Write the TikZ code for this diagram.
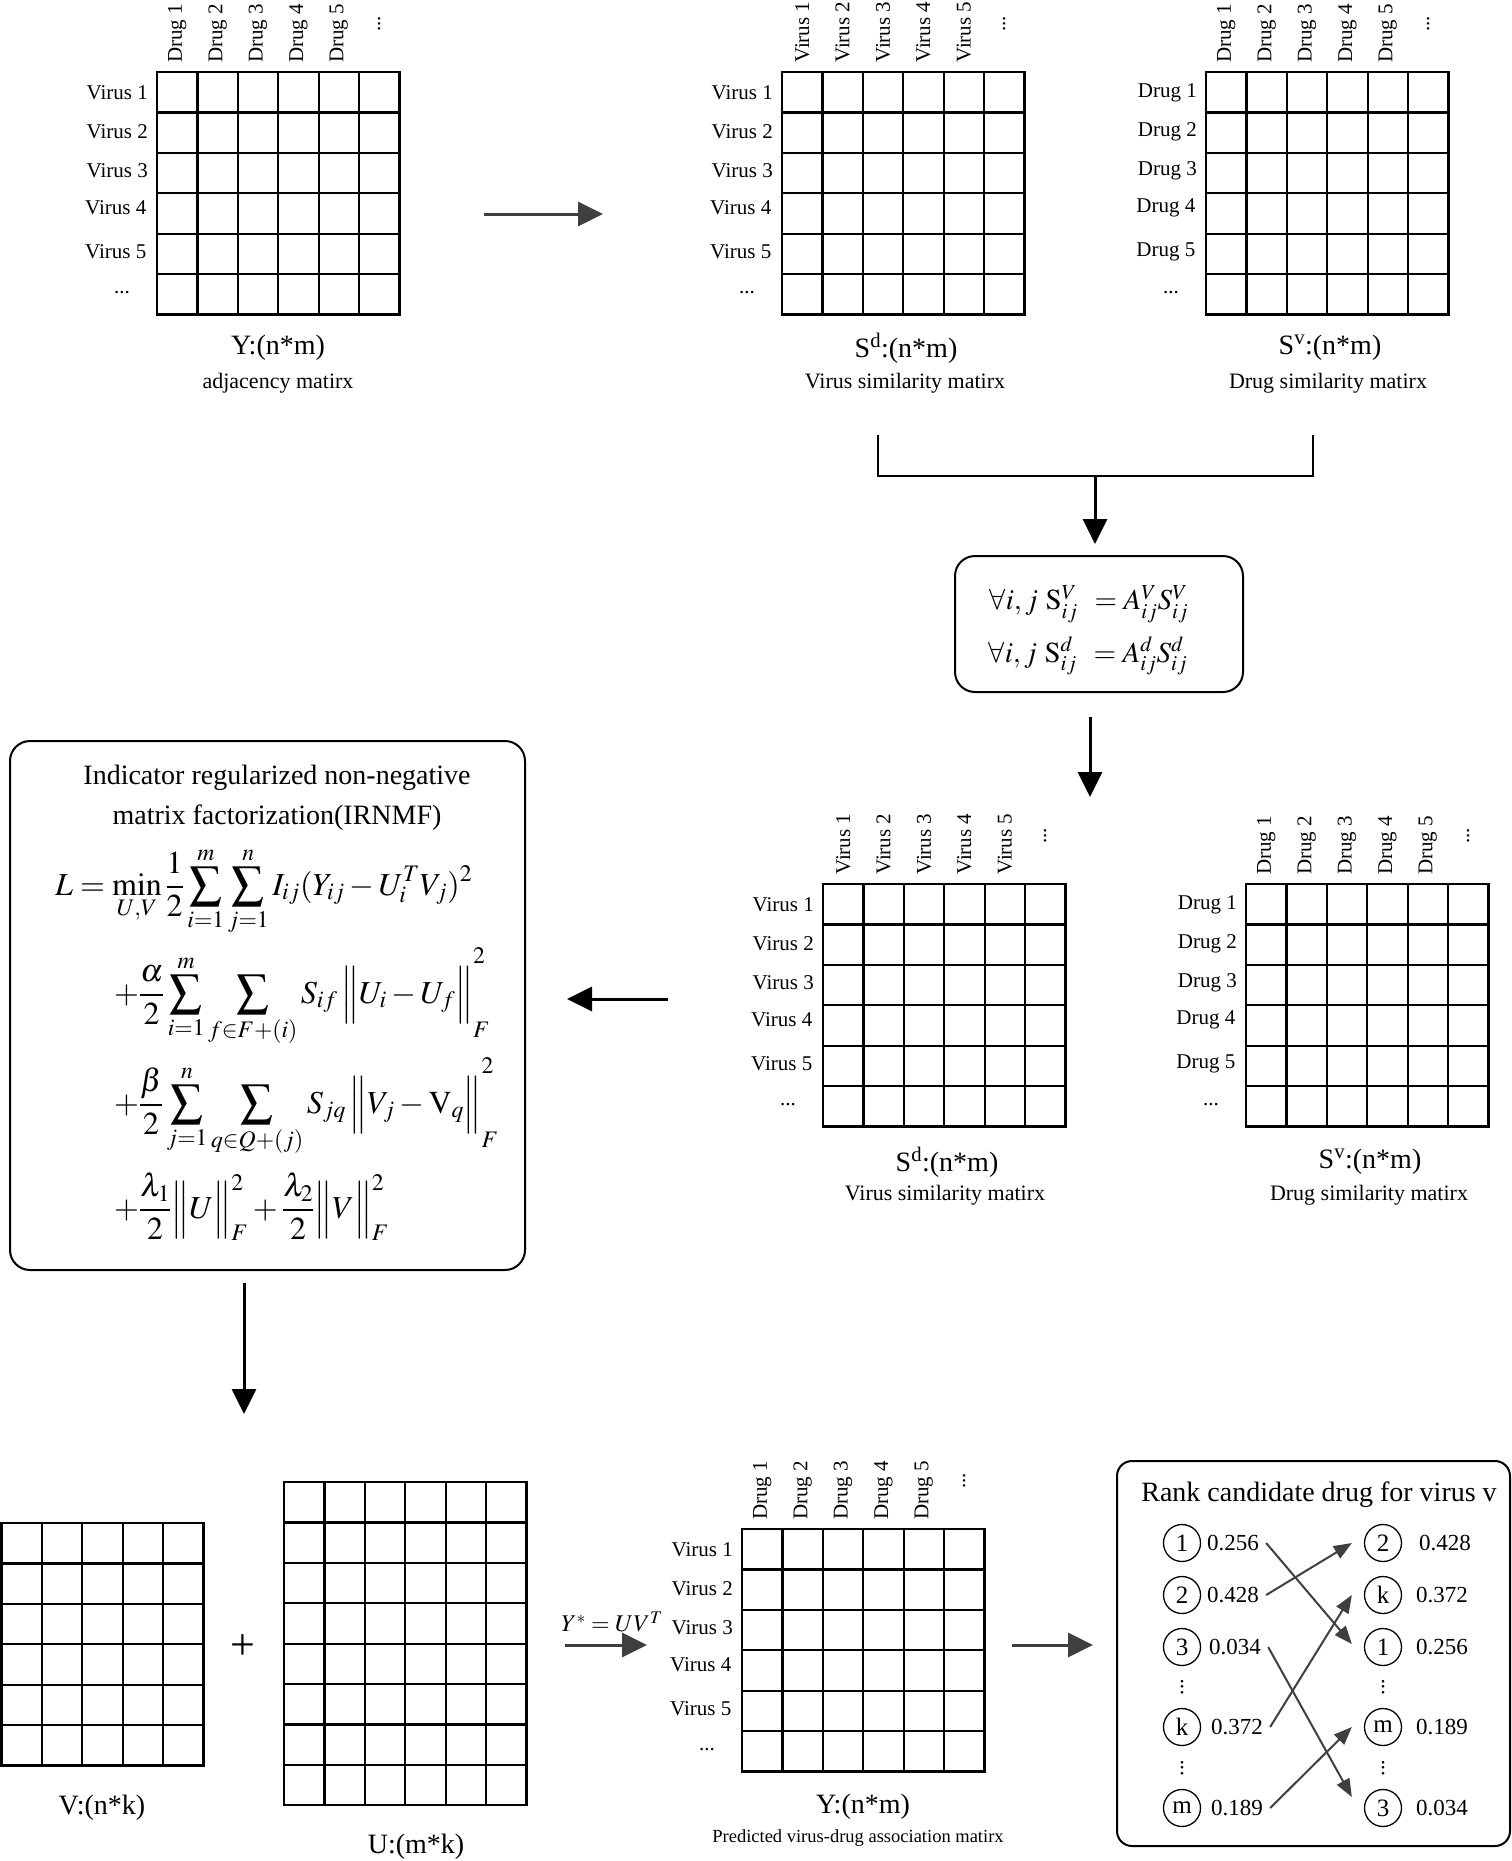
\documentclass[tikz,border=0pt]{standalone}
\usepackage{amsmath}
\usepackage{mathptmx}
\usepackage{fontspec}
\setmainfont{Liberation Serif}
\usetikzlibrary{arrows.meta}
\definecolor{dgray}{HTML}{3F3F3F}
\newcommand\cellsz{40.4}
\newcommand\mxgrid[4]{%
  \foreach \i in {0,...,#3}{\draw[gridline] ({#1+\i*\cellsz},#2) -- ({#1+\i*\cellsz},{#2+#4*\cellsz});}
  \foreach \j in {0,...,#4}{\draw[gridline] (#1,{#2+\j*\cellsz}) -- ({#1+#3*\cellsz},{#2+\j*\cellsz});}
}
\newcommand\mxlabels[5]{% x0, y0, row prefix, col prefix, name
  \foreach \k/\dy/\dx in {1/21/9,2/60/9,3/99/9,4/136/10.5,5/180/10.5}{\node[lab,anchor=east] (#5r\k) at ({#1-\dx},{#2+\dy}) {#3 \k};}
  \node[lab] (#5rd) at ({#1-35},{#2+221}) {...};
  \foreach \k in {1,...,5}{\node[lab,rotate=90,anchor=west] (#5c\k) at ({#1+(\k-0.5)*\cellsz},{#2-9}) {#4 \k};}
  \node[lab,rotate=90] (#5cd) at ({#1+5.5*\cellsz},{#2-48}) {...};
}
\newcommand\nrmsub[2]{_{\hbox{\lower13pt\hbox{$\scriptstyle #1$}}}^{\hbox{\raise12pt\hbox{$\scriptstyle #2$}}}}
\begin{document}
\begin{tikzpicture}[x=1pt,y=-1pt,
  lab/.style={font=\fontsize{21}{24}\selectfont, inner sep=0pt},
  captxt/.style={font=\fontsize{28}{32}\selectfont, inner sep=0pt},
  subtxt/.style={font=\fontsize{22}{26}\selectfont, inner sep=0pt},
  gridline/.style={line width=2.2pt, line cap=rect},
  barr/.style={line width=3pt, -{Triangle[length=25pt,width=24pt]}},
  garr/.style={barr, draw=dgray, fill=dgray},
  rarr/.style={line width=2pt, draw=dgray, -{Triangle[length=18pt,width=14pt]}},
  rbox/.style={draw, line width=2pt, rounded corners=20pt, inner sep=0pt},
  circ/.style={circle, draw, line width=1.3pt, minimum size=37pt, inner sep=0pt, font=\fontsize{25}{25}\selectfont},
  val/.style={font=\fontsize{23}{25}\selectfont, inner sep=0pt, anchor=west},
  vdot/.style={rotate=90, inner sep=0pt, font=\fontsize{22}{22}\selectfont},
  fml/.style={anchor=base west, inner sep=0pt, font=\fontsize{32}{38}\selectfont},
]
\useasboundingbox (0,0) rectangle (1512,1861);

% ---------- top row ----------
\mxgrid{157}{72}{6}{6}
\mxlabels{157}{72}{Virus}{Drug}{ma}
\node[captxt] (capA) at (278,348) {Y:(n*m)};
\node[subtxt] (subA) at (278,383) {adjacency matirx};

\mxgrid{782}{72}{6}{6}
\mxlabels{782}{72}{Virus}{Virus}{mb}
\node[captxt] (capB) at (906,348) {S\textsuperscript{d}:(n*m)};
\node[subtxt] (subB) at (905,383) {Virus similarity matirx};

\mxgrid{1206}{72}{6}{6}
\mxlabels{1206}{72}{Drug}{Drug}{mc}
\node[captxt] (capC) at (1330,348) {S\textsuperscript{v}:(n*m)};
\node[subtxt] (subC) at (1328,383) {Drug similarity matirx};

\coordinate (a1s) at (484,214);
\coordinate (a1e) at (603,214);
\draw[garr] (a1s) -- (a1e);

% bracket
\coordinate (brL) at (878,435);
\coordinate (brR) at (1313,435);
\coordinate (brM) at (1095,476);
\draw[line width=2pt] (brL) |- (brR |- brM) -- (brR);

% equation box
\node[rbox, minimum width=288pt, minimum height=136pt] (eqbox) at (1099,624) {};
\draw[barr] (brM) -- ([xshift=-4pt,yshift=11pt]eqbox.north);
\node[inner sep=0pt, font=\fontsize{29}{32}\selectfont] (eq1) at (1089,604) {$\forall i,j\ \mathrm{S}_{ij}^{V}\ \,= A_{ij}^{V}S_{ij}^{V}$};
\node[inner sep=0pt, font=\fontsize{29}{32}\selectfont] (eq2) at (1088,656) {$\forall i,j\ \mathrm{S}_{ij}^{d}\ \,= A_{ij}^{d}S_{ij}^{d}$};

\coordinate (a2s) at (1090,717);
\coordinate (a2e) at (1090,797);
\draw[barr] (a2s) -- (a2e);

% ---------- middle row ----------
\mxgrid{823}{884}{6}{6}
\mxlabels{823}{884}{Virus}{Virus}{md}
\node[captxt] (capD) at (947,1162) {S\textsuperscript{d}:(n*m)};
\node[subtxt] (subD) at (945,1195) {Virus similarity matirx};

\mxgrid{1246}{884}{6}{6}
\mxlabels{1246}{884}{Drug}{Drug}{me}
\node[captxt] (capE) at (1370,1162) {S\textsuperscript{v}:(n*m)};
\node[subtxt] (subE) at (1369,1195) {Drug similarity matirx};

% IRNMF box
\node[rbox, minimum width=515pt, minimum height=529pt] (irbox) at (267.5,1005.5) {};
\node[align=center, inner sep=0pt, font=\fontsize{28}{40}\selectfont] (irtitle) at (277,798) {Indicator regularized non-negative\\matrix factorization(IRNMF)};
\node[fml] (f1) at (55,895) {\smash{$\displaystyle L=\min_{U,V}\frac{1}{2}\sum_{i=1}^{m}\sum_{j=1}^{n}I_{ij}(Y_{ij}-U_i^TV_j)^2$}};
\node[fml] (f2) at (114,1003) {\smash{$\displaystyle +\frac{\alpha}{2}\sum_{i=1}^{m}\sum_{f\in F+(i)}S_{if}\,\Big\|U_i-U_f\Big\|\nrmsub{F}{2}$}};
\node[fml] (f3) at (114,1113) {\smash{$\displaystyle +\frac{\beta}{2}\sum_{j=1}^{n}\sum_{q\in Q+(j)}S_{jq}\,\Big\|V_j-\mathrm{V}_q\Big\|\nrmsub{F}{2}$}};
\node[fml] (f4) at (114,1218) {\smash{$\displaystyle +\frac{\lambda_1}{2}\Big\|U\Big\|_F^2+\frac{\lambda_2}{2}\Big\|V\Big\|_F^2$}};

\coordinate (a3s) at (668,999);
\coordinate (a3e) at (567,999);
\draw[barr] (a3s) -- (a3e);

\coordinate (a4s) at (244,1283);
\coordinate (a4e) at (244,1414);
\draw[barr] (a4s) -- (a4e);

% ---------- bottom row ----------
\mxgrid{1.5}{1523}{5}{6}
\node[captxt] (capV) at (102,1808) {V:(n*k)};
\node[font=\fontsize{44}{44}\selectfont, inner sep=0pt] (plus) at (243,1647) {+};
\mxgrid{284}{1482}{6}{8}
\node[captxt] (capU) at (416,1847) {U:(m*k)};

\coordinate (a5s) at (565,1645);
\coordinate (a5e) at (647,1645);
\draw[garr] (a5s) -- (a5e);
\node[inner sep=0pt, font=\fontsize{24}{26}\selectfont] (ylab) at (612,1622) {$Y^{*}=UV^{T}$};

\mxgrid{742}{1529}{6}{6}
\mxlabels{742}{1529}{Virus}{Drug}{mf}
\node[captxt] (capF) at (863,1807) {Y:(n*m)};
\node[inner sep=0pt, font=\fontsize{18.5}{21}\selectfont] (subF) at (858,1838) {Predicted virus-drug association matirx};

\coordinate (a6s) at (1012,1645);
\coordinate (a6e) at (1093,1645);
\draw[garr] (a6s) -- (a6e);

% ranking box
\node[rbox, rounded corners=15pt, minimum width=393pt, minimum height=385pt] (rkbox) at (1313.5,1653.5) {};
\node[inner sep=0pt, font=\fontsize{28}{32}\selectfont] (rktitle) at (1319,1495) {Rank candidate drug for virus v};

\node[circ] (l1) at (1182,1543) {1};
\node[circ] (l2) at (1182,1595) {2};
\node[circ] (l3) at (1182,1647) {3};
\node[circ] (lk) at (1182,1727) {k};
\node[circ] (lm) at (1182,1808) {m};
\node[vdot] (ld1) at (1182,1687) {...};
\node[vdot] (ld2) at (1182,1768) {...};
\node[val] (lv1) at (1207,1543) {0.256};
\node[val] (lv2) at (1207,1595) {0.428};
\node[val] (lv3) at (1209,1647) {0.034};
\node[val] (lvk) at (1211,1727) {0.372};
\node[val] (lvm) at (1211,1808) {0.189};

\node[circ] (r2) at (1383,1543) {2};
\node[circ] (rk) at (1383,1595) {k};
\node[circ] (r1) at (1383,1647) {1};
\node[circ] (rm) at (1383,1727) {m};
\node[circ] (r3) at (1383,1808) {3};
\node[vdot] (rd1) at (1383,1687) {...};
\node[vdot] (rd2) at (1383,1768) {...};
\node[val] (rv2) at (1419,1543) {0.428};
\node[val] (rvk) at (1416,1595) {0.372};
\node[val] (rv1) at (1416,1647) {0.256};
\node[val] (rvm) at (1416,1727) {0.189};
\node[val] (rv3) at (1416,1808) {0.034};

\draw[rarr] ([xshift=7pt]lv1.east) -- ([xshift=-12pt,yshift=3pt]r1.west);
\draw[rarr] ([xshift=7pt]lv2.east) -- ([xshift=-12pt]r2.west);
\draw[rarr] ([xshift=7pt]lv3.east) -- ([xshift=-12pt,yshift=11pt]r3.west);
\draw[rarr] ([xshift=7pt]lvk.east) -- ([xshift=-12pt]rk.west);
\draw[rarr] ([xshift=7pt]lvm.east) -- ([xshift=-12pt]rm.west);
\end{tikzpicture}
\end{document}
